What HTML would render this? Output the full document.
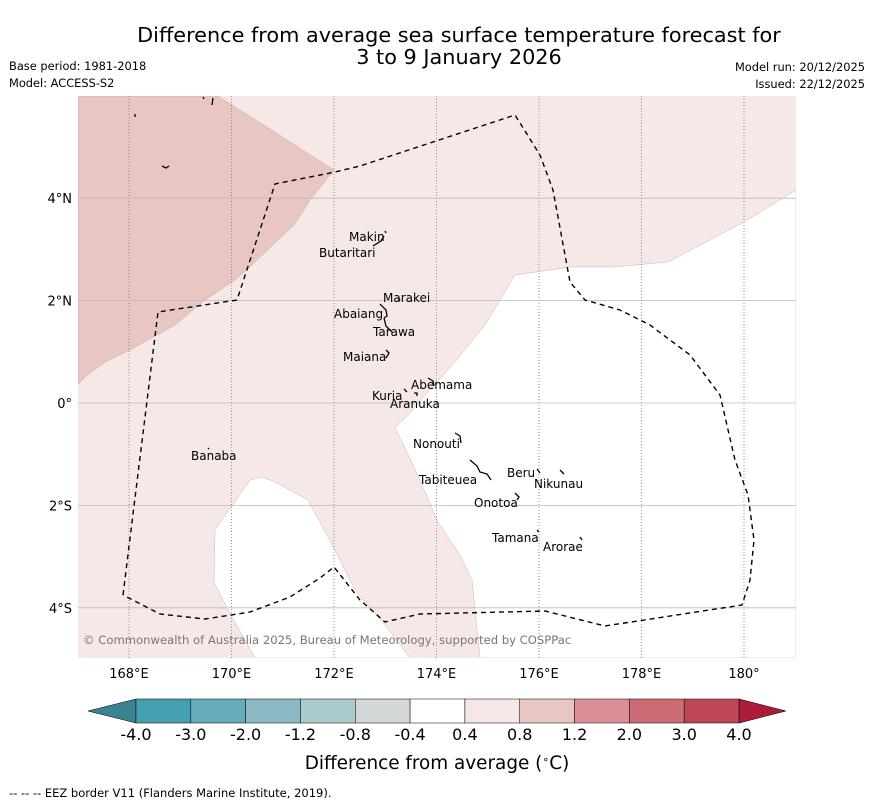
<!DOCTYPE html>
<html><head><meta charset="utf-8"><style>
body{margin:0;background:#fff;font-family:"Liberation Sans","DejaVu Sans",sans-serif;}
svg{display:block}
</style></head><body>
<svg width="873" height="804" viewBox="0 0 873 804" font-family="DejaVu Sans, Liberation Sans, sans-serif">
<text x="459" y="42" text-anchor="middle" font-size="20.8">Difference from average sea surface temperature forecast for</text>
<text x="459" y="64" text-anchor="middle" font-size="20.8">3 to 9 January 2026</text>
<text x="9" y="70" font-size="11.4">Base period: 1981-2018</text>
<text x="9" y="87" font-size="11.4">Model: ACCESS-S2</text>
<text x="865" y="71" font-size="11.4" text-anchor="end">Model run: 20/12/2025</text>
<text x="865" y="88" font-size="11.4" text-anchor="end">Issued: 22/12/2025</text>
<defs><clipPath id="mapclip"><rect x="78" y="96" width="718" height="562"/></clipPath></defs>
<g clip-path="url(#mapclip)">
<rect x="78" y="96" width="718" height="562" fill="#f5e8e6"/>
<polygon fill="#e8c6c2" stroke="#c9a8a4" stroke-width="0.5" points="78,96 218,96 334,170 310,200 295,224 255,262 235,280 205,300 175,325 130,350 105,362 85,377 78,385"/>
<polygon fill="#fff" stroke="#cdb4b1" stroke-width="0.5" points="796,190 744,222 668,262 612,267 570,267 515,275 485,325 455,362 425,395 410,413 395,428 405,448 420,480 438,522 460,555 472,580 480,658 796,658"/>
<polygon fill="#fff" stroke="#cdb4b1" stroke-width="0.5" points="255,658 228,610 214,582 215,530 250,480 262,477 275,482 308,500 335,550 355,590 385,625 410,658"/>
<g id="grid"></g>
<polyline fill="none" stroke="#000" stroke-width="1.4" stroke-dasharray="5,4" points="123,595 158,312 237,300 275,184 335,172 360,166 515,115 540,155 553,190 570,282 585,300 620,310 650,325 690,355 720,395 735,460 748,495 754,540 750,580 742,605 605,626 545,611 420,614 385,622 360,600 334,567 320,578 290,597 250,612 205,619 160,614 123,595"/>
<g stroke="#000" stroke-width="1.3" fill="none">
<path d="M373,246 L381,241 L384,236 M385,231 L386,233"/><path d="M398,298 L400,300"/><path d="M380,304 L386,310 L387,316 L384,318"/>
<path d="M384,318 L386,326 L392,332"/><path d="M386,350 L389,353 L386,358"/><path d="M428,378 L433,381 L434,386"/>
<path d="M404,389 L407,392 M414,393 L417,393 L417,396"/><path d="M455,433 L460,436 L461,443"/><path d="M470,460 L477,466 L480,472 L487,474 L491,480"/>
<path d="M537,469 L540,473"/><path d="M560,470 L564,474"/><path d="M515,493 L519,497 L517,500"/><path d="M537,530 L539,532"/><path d="M580,537 L582,540"/>
<path d="M208,448 L209,449"/><path d="M135,114 L135,117"/><path d="M162,166 L166,168 L169,166"/><path d="M203,97 L204,99 M213,98 L212,105"/>
</g>
<g font-size="12" fill="#000">
<text x="349" y="241">Makin</text><text x="319" y="257">Butaritari</text><text x="383" y="302">Marakei</text>
<text x="334" y="318">Abaiang</text><text x="373" y="336">Tarawa</text><text x="343" y="361">Maiana</text>
<text x="411" y="389">Abemama</text><text x="372" y="400">Kuria</text><text x="390" y="408">Aranuka</text>
<text x="413" y="448">Nonouti</text><text x="419" y="484">Tabiteuea</text><text x="507" y="477">Beru</text>
<text x="534" y="488">Nikunau</text><text x="474" y="507">Onotoa</text><text x="492" y="542">Tamana</text>
<text x="543" y="551">Arorae</text><text x="191" y="460">Banaba</text>
</g>
<text x="83" y="644" font-size="11.6" fill="#777">© Commonwealth of Australia 2025, Bureau of Meteorology, supported by COSPPac</text>
</g>
<g id="axes" font-size="13"></g>
<g id="cbar"></g>
<text x="437" y="769" text-anchor="middle" font-size="18.4">Difference from average (<tspan baseline-shift="super" font-size="11">∘</tspan>C)</text>
<text x="9" y="797" font-size="11.5">--  --  -- EEZ border V11 (Flanders Marine Institute, 2019).</text>
</svg>
<script>
const lonTicks=[168,170,172,174,176,178,180];
const lonLabels=["168°E","170°E","172°E","174°E","176°E","178°E","180°"];
const latTicks=[4,2,0,-2,-4];
const latLabels=["4°N","2°N","0°","2°S","4°S"];
const levels=["-4.0","-3.0","-2.0","-1.2","-0.8","-0.4","0.4","0.8","1.2","2.0","3.0","4.0"];
const levelColors=["#45a0b1","#66acba","#8bbac4","#aacacc","#d3d7d7","#ffffff","#f5e7e5","#e8c6c2","#d98f95","#cd6b75","#c04656"];
const lowColor="#3c8390", highColor="#ac1c3a";
const NS="http://www.w3.org/2000/svg";
const xLon=l=>129+(l-168)*51.25;
const yLat=a=>403-a*51.2;
const grid=document.getElementById('grid'), axes=document.getElementById('axes'), cbar=document.getElementById('cbar');
function mk(t,at,p){const e=document.createElementNS(NS,t);for(const k in at)e.setAttribute(k,at[k]);p.appendChild(e);return e;}
lonTicks.forEach((l,i)=>{
 const ln=mk('line',{x1:xLon(l),x2:xLon(l),y1:96,y2:658,stroke:'#777','stroke-width':0.8,'stroke-dasharray':'1,2'},grid);
 
 
 const t=mk('text',{x:xLon(l),y:678,'text-anchor':'middle'},axes);t.textContent=lonLabels[i];
 
 
});
latTicks.forEach((a,i)=>{
 const ln=mk('line',{x1:78,x2:796,y1:yLat(a),y2:yLat(a),stroke:'#bbb','stroke-width':0.8},grid);
 
 
 const t=mk('text',{x:72,y:yLat(a)+5,'text-anchor':'end'},axes);t.textContent=latLabels[i];
 
 
});
const bx0=136,bx1=739,by0=699,by1=723,bw=(bx1-bx0)/levelColors.length;
const la=mk('polygon',{points:`${bx0},${by0} 88,${(by0+by1)/2} ${bx0},${by1}`,fill:lowColor,stroke:'#000','stroke-width':0.6},cbar);


const ra=mk('polygon',{points:`${bx1},${by0} 786,${(by0+by1)/2} ${bx1},${by1}`,fill:highColor,stroke:'#000','stroke-width':0.6},cbar);


levelColors.forEach((c,i)=>{
 const r=mk('rect',{x:bx0+i*bw,y:by0,width:bw,height:by1-by0,fill:c,stroke:'#000','stroke-width':0.5},cbar);
 
 
});
levels.forEach((v,i)=>{
 const t=mk('text',{x:bx0+i*bw,y:740,'text-anchor':'middle','font-size':16},cbar);t.textContent=v;
 
 
});
</script>
</body></html>
